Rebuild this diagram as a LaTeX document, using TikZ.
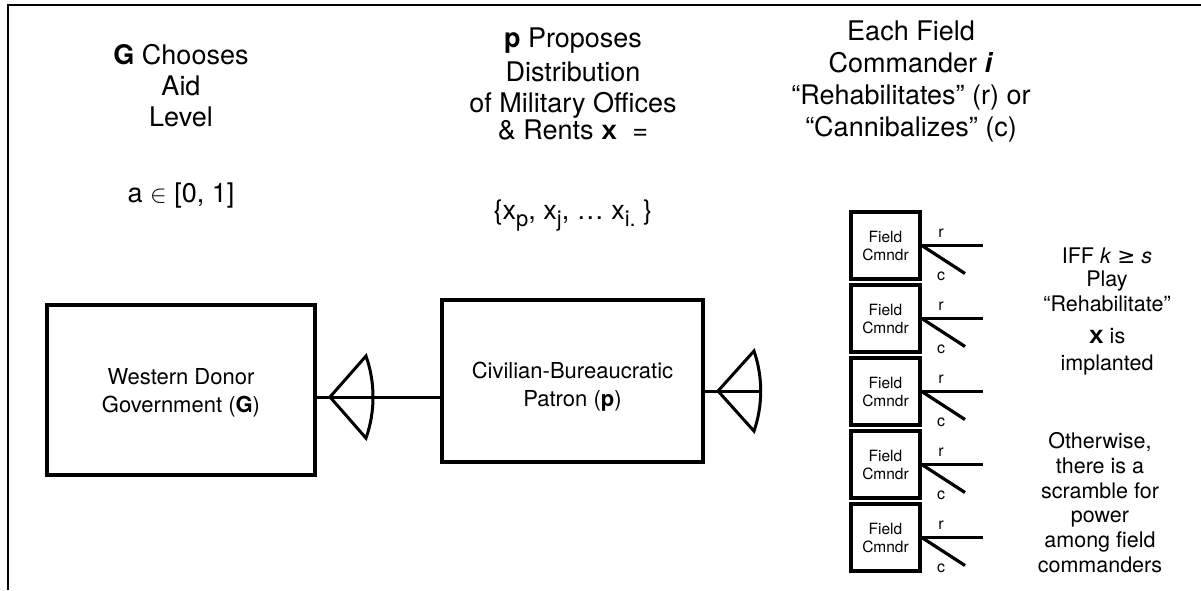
\documentclass[tikz,border=0pt]{standalone}
\usepackage{fontspec}
\setmainfont{TeX Gyre Heros}
\newfontfamily\dejavu{DejaVu Sans}
\newfontfamily\courfont{Liberation Mono}
\begin{document}
\begin{tikzpicture}[x=1pt,y=-1pt,
  big/.style={font=\fontsize{27}{31}\selectfont, inner sep=0pt, anchor=base},
  mid/.style={font=\fontsize{21.5}{25}\selectfont, inner sep=0pt, anchor=base},
  lbl/.style={font=\fontsize{22}{28}\selectfont, inner sep=0pt, anchor=base},
  fcbox/.style={draw, line width=3.6pt, minimum width=69pt, minimum height=67pt, inner sep=0pt, font=\fontsize{15.5}{18}\selectfont, align=center},
  bigbox/.style={draw, line width=3.2pt, inner sep=0pt},
  branch/.style={line width=3.2pt},
  rclabel/.style={font=\fontsize{16}{16}\selectfont, inner sep=0pt},
  fanline/.style={line width=3pt},
  frameline/.style={line width=2.5pt}
]
\useasboundingbox (0,0) rectangle (1201,590);
% frame
\coordinate (fA) at (8,590);
\coordinate (fB) at (8,5);
\coordinate (fC) at (1201,5);
\draw[frameline] (fA) -- (fB) -- (fC);

% top-left block
\node[big] (g1) at (181,64) {\textbf{G} Chooses};
\node[big] (g2) at (181,95) {Aid};
\node[big] (g3) at (181,126) {Level};
\node[big] (g4) at (181,202) {a $\in$ [0, 1]};

% middle block
\node[big] (p1) at (573,47) {\textbf{p} Proposes};
\node[big] (p2) at (573,81) {Distribution};
\node[big] (p3) at (573,112) {of Military Offices};
\node[big] (p4) at (573,139) {\& Rents {\courfont\bfseries x}\ \ =};
\node[big] (p5) at (573,219) {\{x\raisebox{-7pt}{\fontsize{22}{22}\selectfont p}, x\raisebox{-7pt}{\fontsize{22}{22}\selectfont j}, \dots\ x\raisebox{-7pt}{\fontsize{22}{22}\selectfont i.} \}};

% right-top block
\node[big] (e1) at (911,40) {Each Field};
\node[big] (e2) at (911,72) {Commander \textbf{\textit{i}}};
\node[big] (e3) at (911,104) {“Rehabilitates” (r) or};
\node[big] (e4) at (911,136) {“Cannibalizes” (c)};

% right blocks
\node[mid] (k1) at (1107,263) {IFF \textit{k} {\dejavu ≥} \textit{s}};
\node[mid] (k2) at (1107,286) {Play};
\node[mid] (k3) at (1107,311) {“Rehabilitate”};
\node[mid] (k4) at (1107,343) {{\fontsize{25}{25}\courfont\bfseries x} is};
\node[mid] (k5) at (1107,370) {implanted};
\node[mid] (o1) at (1100,448) {Otherwise,};
\node[mid] (o2) at (1100,473) {there is a};
\node[mid] (o3) at (1100,498) {scramble for};
\node[mid] (o4) at (1100,522) {power};
\node[mid] (o5) at (1100,547) {among field};
\node[mid] (o6) at (1100,572) {commanders};

% main boxes
\node[bigbox, minimum width=268pt, minimum height=170pt] (G) at (181,390) {};
\node[lbl] (Gt1) at (181,384) {Western Donor};
\node[lbl] (Gt2) at (181,412) {Government (\textbf{G})};
\node[bigbox, minimum width=261pt, minimum height=162pt] (P) at (572.5,381) {};
\node[lbl] (Pt1) at (572.5,378) {Civilian-Bureaucratic};
\node[lbl] (Pt2) at (572.5,406) {Patron (\textbf{p})};

% connector G -> P with fan
\coordinate (gs) at (315,397);
\coordinate (ge) at (442,397);
\draw[fanline] (gs) -- (ge);
\coordinate (ga) at (330,397);
\draw[fanline] (ga) -- ++(36,-41) arc[start angle=19.4, end angle=-19.4, radius=123.6pt] -- (ga);

% connector from P with fan
\coordinate (ps) at (703,391);
\coordinate (pe) at (760,391);
\draw[fanline] (ps) -- (pe);
\coordinate (pa) at (718,391);
\draw[fanline] (pa) -- ++(36,-40) arc[start angle=19.0, end angle=-19.0, radius=123pt] -- (pa);

% field commanders
\foreach \i/\yy in {1/212,2/285,3/358,4/431,5/504}{
  \node[fcbox] (f\i) at (885.5,\yy+33.5) {Field\\Cmndr};
  \coordinate (r\i) at (983,\yy+33.5);
  \coordinate (c\i) at (965,\yy+61.5);
  \draw[branch] (f\i.east) -- (r\i);
  \draw[branch] (f\i.east) -- (c\i);
  \node[rclabel] (rl\i) at (941,\yy+21) {r};
  \node[rclabel] (cl\i) at (941,\yy+64.7) {c};
}
\end{tikzpicture}
\end{document}
